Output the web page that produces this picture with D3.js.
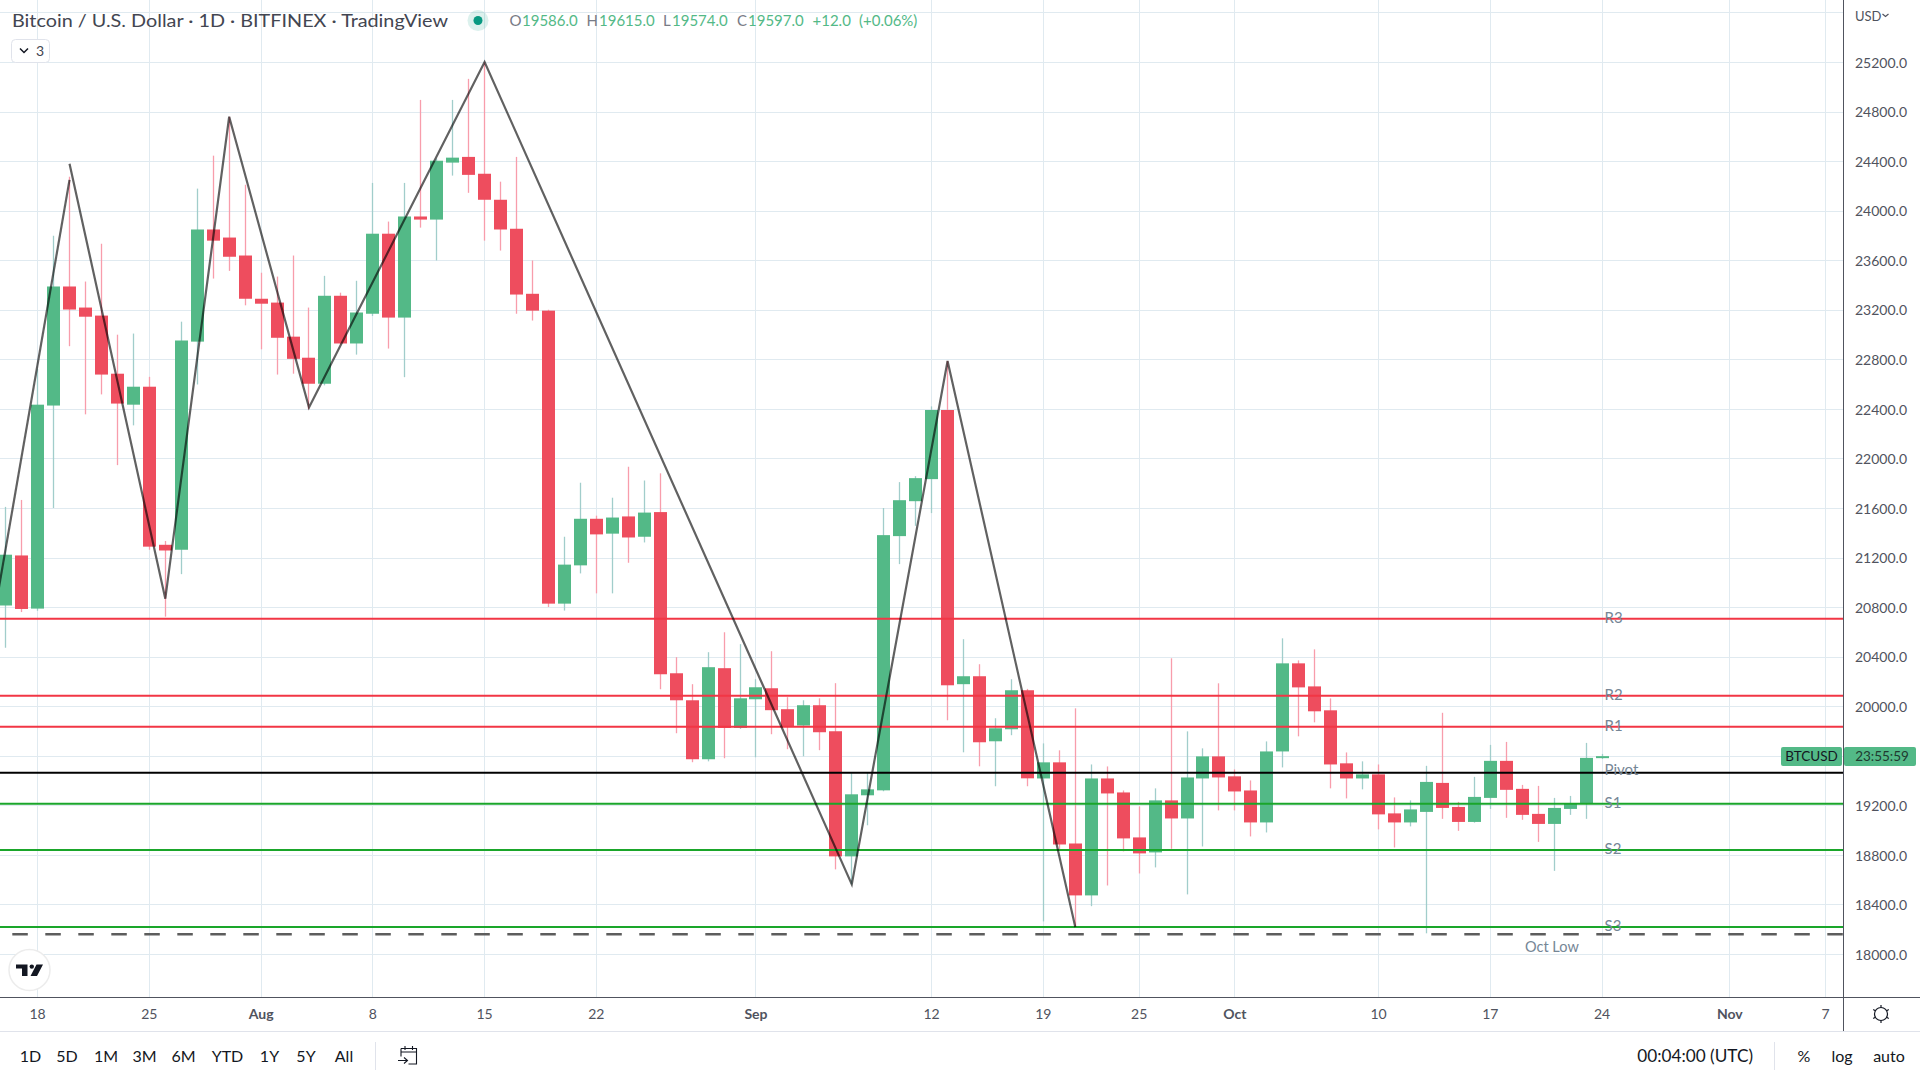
<!DOCTYPE html>
<html lang="en">
<head>
<meta charset="UTF-8"/>
<title>BTCUSD 1D</title>
<script src="https://d3js.org/d3.v7.min.js"></script>
<style>
  html, body { margin: 0; padding: 0; background: #fff; overflow: hidden; }
  text { font-family: Lato, "Open Sans", sans-serif; }
  .axis path, .axis line { display: none; }
  .grid path { display: none; }
  .grid line { stroke: #e0eaf0; stroke-width: 1; shape-rendering: crispEdges; }
</style>
</head>
<body>
<svg id="main" width="1920" height="1080"></svg>
<script>

// daily candles, 16 Jul - 24 Oct 2022
var days = d3.utcDay.range(new Date(Date.UTC(2022, 6, 16)), new Date(Date.UTC(2022, 9, 25)))

var opens = [20813,21217,20788,22427,23388,23218,23153,22684,22434,22579,21303,21263,22943,23848,23783,23638,
  23289,23258,22983,22813,22603,23313,22928,23168,23814,23137,23953,23928,24388,24434,24298,24088,23854,23329,23193,20828,21137,21513,21393,21532,21368,21567,20266,20048,19572,20307,19825,
  20056,20145,19976,19844,20008,19798,18788,19281,19321,21373,21655,21833,22391,20178,20242,19717,19814,20129,19417,19547,18892,18473,19417,19304,18941,18820,19240,19094,19417,19595,
  19434,19320,19062,19635,20346,20160,19967,19539,19417,19450,19135,19062,19147,19381,19187,19066,19260,19559,19333,19131,19050,19171,19212,19586]
var highs = [21609,21665,22721,23798,24274,23428,23733,22999,23008,22659,21334,23104,24178,24444,24758,24209,
  23499,23468,23638,23218,23474,23338,23434,24224,23912,24224,24894,24420,24894,25064,25197,24234,24434,23598,23200,21368,21804,21538,21683,21933,21822,21880,20396,20178,20436,20597,20501,
  20218,20444,20073,20048,20064,20186,19459,19464,21599,21809,21857,22420,22787,20541,20339,19903,20218,20140,19700,19644,19983,19530,19514,19320,19191,19337,20387,19797,19660,20185,
  19490,19401,19716,20548,20370,20459,20063,19627,19555,19530,19264,19240,19519,19947,19228,19430,19688,19712,19365,19357,19260,19276,19704,19615]
var lows = [20472,20760,20770,21600,22906,22356,22517,21946,22267,21263,20723,21066,22597,23452,23514,23236,
  22881,22677,22684,22396,22590,22920,22838,23150,22887,22656,23863,23598,24283,24144,23758,23678,23168,23113,20800,20772,21072,20911,20911,21158,21322,20137,19782,19548,19555,19580,19817,
  19588,19774,19653,19596,19645,18683,18562,19039,19313,21147,21456,21559,19887,19628,19515,19354,19766,19354,18263,18840,18225,18386,18553,18828,18650,18699,18849,18481,18868,19159,
  19159,18949,18981,19506,19757,19870,19337,19256,19329,19006,18860,19030,18167,19091,18994,19060,19171,19099,19083,18905,18671,19123,19091,19574]
var closes = [21223,20785,22434,23388,23202,23144,22677,22443,22579,21288,21257,22952,23848,23758,23628,23289,
  23249,22974,22804,22603,23313,22928,23178,23814,23137,23953,23928,24403,24428,24289,24088,23848,23323,23193,20828,21143,21513,21387,21523,21362,21563,20258,20048,19572,20315,19825,20064,
  20153,19968,19838,20008,19790,18788,19289,19329,21381,21663,21841,22391,20169,20242,19709,19822,20129,19418,19547,18884,18473,19417,19296,18933,18812,19240,19094,19425,19595,19425,
  19312,19062,19635,20346,20152,19959,19530,19417,19450,19127,19062,19167,19389,19179,19066,19268,19559,19325,19123,19050,19179,19212,19583,19597]

// pivot levels
var levelNames = ["R3", "R2", "R1", "Pivot", "S1", "S2", "S3"]
var levelPrices = [20707, 20084, 19834, 19462, 19212, 18840, 18218]
var levelColors = ["#f23645", "#f23645", "#f23645", "#000000", "#1aa62a", "#1aa62a", "#1aa62a"]
var octLow = 18159

// hand drawn swing lines
var swingA = [[Date.UTC(2022, 6, 15), 20528], [Date.UTC(2022, 6, 20), 24249]]
var swingB = [[Date.UTC(2022, 6, 20), 24379], [Date.UTC(2022, 6, 26), 20868], [Date.UTC(2022, 6, 30), 24758],
  [Date.UTC(2022, 7, 4), 22412], [Date.UTC(2022, 7, 15), 25200], [Date.UTC(2022, 8, 7), 18562],
  [Date.UTC(2022, 8, 13), 22787], [Date.UTC(2022, 8, 21), 18218]]

// axis ticks
var priceTicks = d3.range(18000, 25201, 400)
var gridPrices = d3.range(18000, 25601, 400)
var timeTicks = [[6,18,"18"],[6,25,"25"],[7,1,"Aug"],[7,8,"8"],[7,15,"15"],[7,22,"22"],[8,1,"Sep"],[8,12,"12"],
  [8,19,"19"],[8,25,"25"],[9,1,"Oct"],[9,10,"10"],[9,17,"17"],[9,24,"24"],[10,1,"Nov"],[10,7,"7"]]
var tickDates = timeTicks.map(function(t){ return new Date(Date.UTC(2022, t[0], t[1])) })
var tickNames = timeTicks.map(function(t){ return t[2] })
var months = ["Aug", "Sep", "Oct", "Nov"]

var rangeButtons = ["1D", "5D", "1M", "3M", "6M", "YTD", "1Y", "5Y", "All"]
var rangeCenters = [30.5, 67, 106, 144.5, 183.5, 227.5, 269.5, 306, 344]

var chartRight = 1843, chartBottom = 997, sidebarBottom = 1031
var green = "#53b987", red = "#ee4d5e"

var x = d3.scaleUtc()
  .domain([new Date(Date.UTC(2022, 6, 18)), new Date(Date.UTC(2022, 10, 7))])
  .range([37.6, 1825.6])
var y = d3.scaleLinear().domain([18000, 25200]).range([954, 62])

var svg = d3.select("#main")

svg.append("g").attr("class", "grid")
  .attr("transform", "translate(0," + chartBottom + ")")
  .call(d3.axisBottom(x).tickValues(tickDates).tickSize(-chartBottom).tickFormat("").offset(0))
svg.append("g").attr("class", "grid")
  .call(d3.axisLeft(y).tickValues(gridPrices).tickSize(-chartRight).tickFormat(""))

// candles
var candles = svg.append("g").selectAll("g").data(days).enter().append("g")
function up(i) { return closes[i] >= opens[i] }

candles.append("line")
  .attr("x1", function(d){ return Math.floor(x(d)) + 0.5 })
  .attr("x2", function(d){ return Math.floor(x(d)) + 0.5 })
  .attr("y1", function(d, i){ return y(highs[i]) })
  .attr("y2", function(d, i){ return y(lows[i]) })
  .attr("stroke", function(d, i){ return up(i) ? "#a1cdcb" : "#f89dab" })
  .attr("stroke-width", 1.3)

candles.append("rect")
  .attr("x", function(d){ return Math.floor(x(d)) - 6 })
  .attr("width", 13)
  .attr("y", function(d, i){ return y(Math.max(opens[i], closes[i])) })
  .attr("height", function(d, i){ return Math.max(2, Math.abs(y(opens[i]) - y(closes[i]))) })
  .attr("fill", function(d, i){ return up(i) ? green : red })

// pivot lines
svg.append("g").selectAll("line").data(levelPrices).enter().append("line")
  .attr("x1", 0).attr("x2", chartRight)
  .attr("y1", function(d){ return y(d) }).attr("y2", function(d){ return y(d) })
  .attr("stroke", function(d, i){ return levelColors[i] })
  .attr("stroke-width", 2)

svg.append("line")
  .attr("x1", 12.3).attr("x2", chartRight)
  .attr("y1", y(octLow)).attr("y2", y(octLow))
  .attr("stroke", "#5d5d5d").attr("stroke-width", 2.6)
  .attr("stroke-dasharray", "15.5 17.5")

// swing lines
var swing = d3.line().x(function(d){ return x(d[0]) }).y(function(d){ return y(d[1]) })
svg.selectAll("path.swing").data([swingA, swingB]).enter().append("path")
  .attr("class", "swing")
  .attr("d", swing)
  .attr("fill", "none")
  .attr("stroke", "#000")
  .attr("stroke-opacity", 0.62)
  .attr("stroke-width", 2.2)

// level labels
svg.append("g").selectAll("text").data(levelNames).enter().append("text")
  .attr("x", 1604.5)
  .attr("y", function(d, i){ return y(levelPrices[i]) - (d == "Pivot" ? 3 : 1) })
  .attr("dy", "0.35em")
  .attr("font-size", 15)
  .attr("fill", "#758696")
  .text(function(d){ return d })

svg.append("text").attr("x", 1525).attr("y", 951.5)
  .attr("font-size", 14.5).attr("fill", "#758696").text("Oct Low")

// axis panels
svg.append("rect").attr("x", chartRight).attr("y", 0).attr("width", 77).attr("height", sidebarBottom).attr("fill", "#fff")
svg.append("rect").attr("x", 0).attr("y", chartBottom).attr("width", 1920).attr("height", 83).attr("fill", "#fff")

svg.append("line").attr("x1", chartRight + 0.5).attr("x2", chartRight + 0.5).attr("y1", 0).attr("y2", sidebarBottom)
  .attr("stroke", "#50535e").attr("shape-rendering", "crispEdges")
svg.append("line").attr("x1", 0).attr("x2", chartRight + 77).attr("y1", chartBottom + 0.5).attr("y2", chartBottom + 0.5)
  .attr("stroke", "#50535e").attr("shape-rendering", "crispEdges")
svg.append("line").attr("x1", 0).attr("x2", 1920).attr("y1", sidebarBottom + 0.5).attr("y2", sidebarBottom + 0.5)
  .attr("stroke", "#e0e3eb").attr("shape-rendering", "crispEdges")

var priceAxis = svg.append("g").attr("class", "axis")
  .attr("transform", "translate(" + chartRight + ",0.7)")
  .call(d3.axisRight(y).tickValues(priceTicks).tickSize(0).tickPadding(12)
    .tickFormat(function(d){ return d3.format(".1f")(d) }))
priceAxis.attr("font-family", null).attr("font-size", null)
priceAxis.selectAll("text").attr("font-size", 14).attr("fill", "#50535e")

var timeAxis = svg.append("g").attr("class", "axis")
  .attr("transform", "translate(-0.5," + chartBottom + ")")
  .call(d3.axisBottom(x).tickValues(tickDates).tickSize(0).tickPadding(12)
    .tickFormat(function(d, i){ return tickNames[i] }))
timeAxis.attr("font-family", null).attr("font-size", null)
timeAxis.selectAll("text")
  .attr("font-size", 14).attr("fill", "#50535e")
  .attr("font-weight", function(d, i){ return months.indexOf(tickNames[i]) >= 0 ? "bold" : null })

// USD selector
svg.append("text").attr("x", 1855).attr("y", 20.5).attr("font-size", 13).attr("fill", "#50535e").text("USD")
svg.append("path").attr("d", "M1882.5 14l3 2.5 3-2.5").attr("fill", "none").attr("stroke", "#50535e").attr("stroke-width", 1.2)

// last price tag
svg.append("rect").attr("x", 1781).attr("y", 747).attr("width", 61).attr("height", 19).attr("rx", 2).attr("fill", green)
svg.append("rect").attr("x", 1844).attr("y", 747).attr("width", 72).attr("height", 19).attr("rx", 2).attr("fill", green)
svg.append("text").attr("x", 1811.5).attr("y", 761).attr("text-anchor", "middle").attr("font-size", 13.5).attr("fill", "#131722").text("BTCUSD")
svg.append("text").attr("x", 1882).attr("y", 761).attr("text-anchor", "middle").attr("font-size", 13.5).attr("fill", "#1f3a30").text("23:55:59")

// header
svg.append("text").attr("x", 12).attr("y", 27).attr("font-size", 18).attr("fill", "#434651")
  .attr("textLength", 436).attr("lengthAdjust", "spacingAndGlyphs")
  .text("Bitcoin / U.S. Dollar \u00b7 1D \u00b7 BITFINEX \u00b7 TradingView")
svg.append("circle").attr("cx", 478).attr("cy", 20.5).attr("r", 10.5).attr("fill", "#089981").attr("fill-opacity", 0.14)
svg.append("circle").attr("cx", 478).attr("cy", 20.5).attr("r", 4.5).attr("fill", "#089981")

var ohlcLetters = ["O", "H", "L", "C"]
var ohlcLetterX = [509.5, 586.5, 663, 737]
var ohlcValues = ["19586.0", "19615.0", "19574.0", "19597.0", "+12.0", "(+0.06%)"]
var ohlcValueX = [522, 599, 672, 748, 812.5, 859]
svg.append("g").selectAll("text").data(ohlcLetters).enter().append("text")
  .attr("x", function(d, i){ return ohlcLetterX[i] }).attr("y", 26).attr("font-size", 15).attr("fill", "#787b86")
  .text(function(d){ return d })
svg.append("g").selectAll("text").data(ohlcValues).enter().append("text")
  .attr("x", function(d, i){ return ohlcValueX[i] }).attr("y", 26).attr("font-size", 15).attr("fill", green)
  .text(function(d){ return d })

// indicator count button
svg.append("rect").attr("x", 11.5).attr("y", 39.5).attr("width", 38).attr("height", 23).attr("rx", 4)
  .attr("fill", "#fff").attr("stroke", "#e0e3eb")
svg.append("path").attr("d", "M20 48.5l4 4 4-4").attr("fill", "none").attr("stroke", "#131722").attr("stroke-width", 1.5)
svg.append("text").attr("x", 36).attr("y", 56).attr("font-size", 14).attr("fill", "#434651").text("3")

// logo
svg.append("circle").attr("cx", 29.5).attr("cy", 970).attr("r", 20.5).attr("fill", "#fff").attr("stroke", "#ececec").attr("stroke-width", 1.5)
svg.append("path").attr("d", "M16 964.5h11.5v11.5h-5.5v-7.5h-6z M36.5 964.5h6.5l-6 11.5h-6.5z").attr("fill", "#131722")
svg.append("circle").attr("cx", 31.8).attr("cy", 966.6).attr("r", 2.2).attr("fill", "#131722")

// bottom toolbar
svg.append("g").selectAll("text").data(rangeButtons).enter().append("text")
  .attr("x", function(d, i){ return rangeCenters[i] }).attr("y", 1061.5)
  .attr("text-anchor", "middle").attr("font-size", 16).attr("fill", "#131722")
  .text(function(d){ return d })

svg.append("line").attr("x1", 375.5).attr("x2", 375.5).attr("y1", 1042).attr("y2", 1070).attr("stroke", "#e0e3eb")
svg.append("path").attr("d", "M401 1048.5h15.5v15.5h-8 M401 1048.5v8 M401 1052h15.5 M405 1046v4 M412.5 1046v4 M398 1060.5h9 M404 1057.5l3.5 3-3.5 3")
  .attr("fill", "none").attr("stroke", "#131722").attr("stroke-width", 1.1)

svg.append("text").attr("x", 1753).attr("y", 1061.5).attr("text-anchor", "end").attr("font-size", 17.2).attr("fill", "#131722").text("00:04:00 (UTC)")
svg.append("line").attr("x1", 1774.5).attr("x2", 1774.5).attr("y1", 1042).attr("y2", 1070).attr("stroke", "#e0e3eb")

var toolNames = ["%", "log", "auto"]
var toolCenters = [1804, 1842, 1889]
svg.append("g").selectAll("text").data(toolNames).enter().append("text")
  .attr("x", function(d, i){ return toolCenters[i] }).attr("y", 1061.5)
  .attr("text-anchor", "middle").attr("font-size", 16).attr("fill", "#131722")
  .text(function(d){ return d })

// settings gear
var gear = svg.append("g").attr("transform", "translate(1881,1014)")
gear.append("circle").attr("r", 6.5).attr("fill", "none").attr("stroke", "#131722").attr("stroke-width", 1.2)
gear.selectAll("line").data(d3.range(0, 360, 60)).enter().append("line")
  .attr("x1", 6.5).attr("x2", 9).attr("y1", 0).attr("y2", 0)
  .attr("transform", function(d){ return "rotate(" + (d + 30) + ")" })
  .attr("stroke", "#131722").attr("stroke-width", 1.2)

</script>
</body>
</html>
